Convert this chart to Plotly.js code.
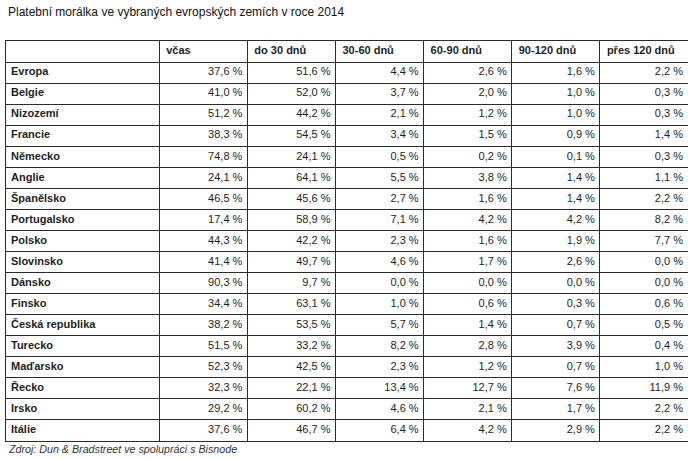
<!DOCTYPE html>
<html>
<head>
<meta charset="utf-8">
<script src="https://cdn.plot.ly/plotly-3.0.1.min.js"></script>
<style>html,body{margin:0;padding:0;background:#fff;}#chart{width:688px;height:459px;}</style>
</head>
<body>
<div id="chart"></div>
<script>
const columns = ["", "včas", "do 30 dnů", "30-60 dnů", "60-90 dnů", "90-120 dnů", "přes 120 dnů"];
const countries = ["Evropa", "Belgie", "Nizozemí", "Francie", "Německo", "Anglie", "Španělsko", "Portugalsko", "Polsko", "Slovinsko", "Dánsko", "Finsko", "Česká republika", "Turecko", "Maďarsko", "Řecko", "Irsko", "Itálie"];
const vcas    = [37.6, 41.0, 51.2, 38.3, 74.8, 24.1, 46.5, 17.4, 44.3, 41.4, 90.3, 34.4, 38.2, 51.5, 52.3, 32.3, 29.2, 37.6];
const do30    = [51.6, 52.0, 44.2, 54.5, 24.1, 64.1, 45.6, 58.9, 42.2, 49.7, 9.7, 63.1, 53.5, 33.2, 42.5, 22.1, 60.2, 46.7];
const d30_60  = [4.4, 3.7, 2.1, 3.4, 0.5, 5.5, 2.7, 7.1, 2.3, 4.6, 0.0, 1.0, 5.7, 8.2, 2.3, 13.4, 4.6, 6.4];
const d60_90  = [2.6, 2.0, 1.2, 1.5, 0.2, 3.8, 1.6, 4.2, 1.6, 1.7, 0.0, 0.6, 1.4, 2.8, 1.2, 12.7, 2.1, 4.2];
const d90_120 = [1.6, 1.0, 1.0, 0.9, 0.1, 1.4, 1.4, 4.2, 1.9, 2.6, 0.0, 0.3, 0.7, 3.9, 0.7, 7.6, 1.7, 2.9];
const pres120 = [2.2, 0.3, 0.3, 1.4, 0.3, 1.1, 2.2, 8.2, 7.7, 0.0, 0.0, 0.6, 0.5, 0.4, 1.0, 11.9, 2.2, 2.2];

// layout / style (pixel-based column widths)
const colWidths = [153, 88, 88, 88, 88, 88, 88];
const colEdges = colWidths.reduce((a, w) => { a.push(a[a.length - 1] + w); return a; }, [0]);
const nRows = countries.length + 1;
const rowEdges = Array.from({length: nRows + 1}, (_, i) => i);
const FONT = 'Liberation Sans, Arial, sans-serif';
const TXT = '#1e1e1e';

const fmt = v => v.toFixed(1).replace('.', ',') + ' %';
const valueCols = [vcas, do30, d30_60, d60_90, d90_120, pres120];

const traces = [];
// header row
traces.push({
  type: 'scatter', mode: 'text', cliponaxis: false, hoverinfo: 'skip',
  x: columns.map((c, i) => colEdges[i] + 7),
  y: columns.map(() => 0.5),
  text: columns.map(c => '<b>' + c + '</b>'),
  textposition: 'middle right',
  textfont: {family: FONT, size: 11, color: TXT}
});
// country column
traces.push({
  type: 'scatter', mode: 'text', cliponaxis: false, hoverinfo: 'skip',
  x: countries.map(() => colEdges[0] + 5),
  y: countries.map((c, i) => i + 1.5),
  text: countries.map(c => '<b>' + c + '</b>'),
  textposition: 'middle right',
  textfont: {family: FONT, size: 11, color: TXT}
});
// value columns
valueCols.forEach((arr, j) => {
  traces.push({
    type: 'scatter', mode: 'text', cliponaxis: false, hoverinfo: 'skip',
    x: arr.map(() => colEdges[j + 2] - 5),
    y: arr.map((v, i) => i + 1.5),
    text: arr.map(fmt),
    textposition: 'middle left',
    textfont: {family: FONT, size: 11, color: TXT}
  });
});

const W = 688, H = 459;
const gridStyle = {showgrid: true, gridcolor: '#2b2b2b', gridwidth: 1, zeroline: false,
  showticklabels: false, ticks: '', showline: true, linecolor: '#2b2b2b', linewidth: 1, mirror: true, fixedrange: true};

const layout = {
  width: W, height: H,
  margin: {l: 6, r: 0, t: 41, b: 18, pad: 0},
  paper_bgcolor: '#ffffff', plot_bgcolor: '#ffffff',
  showlegend: false,
  xaxis: Object.assign({}, gridStyle, {type: 'linear', range: [0, colEdges[colEdges.length - 1]], tickmode: 'array', tickvals: colEdges}),
  yaxis: Object.assign({}, gridStyle, {type: 'linear', range: [nRows, 0], tickmode: 'array', tickvals: rowEdges}),
  annotations: [
    {text: 'Platební morálka ve vybraných evropských zemích v roce 2014', xref: 'paper', yref: 'paper',
     x: 0, y: 1 + (41 - 12.5) / 400, xanchor: 'left', yanchor: 'middle', showarrow: false,
     font: {family: FONT, size: 12, color: '#111'}},
    {text: '<i>Zdroj: Dun & Bradstreet ve spolupráci s Bisnode</i>', xref: 'paper', yref: 'paper',
     x: 0, y: -(449 - 441) / 400, xanchor: 'left', yanchor: 'middle', showarrow: false,
     font: {family: FONT, size: 10.7, color: '#333'}}
  ]
};

Plotly.newPlot('chart', traces, layout, {staticPlot: true, displayModeBar: false});
</script>
</body>
</html>
